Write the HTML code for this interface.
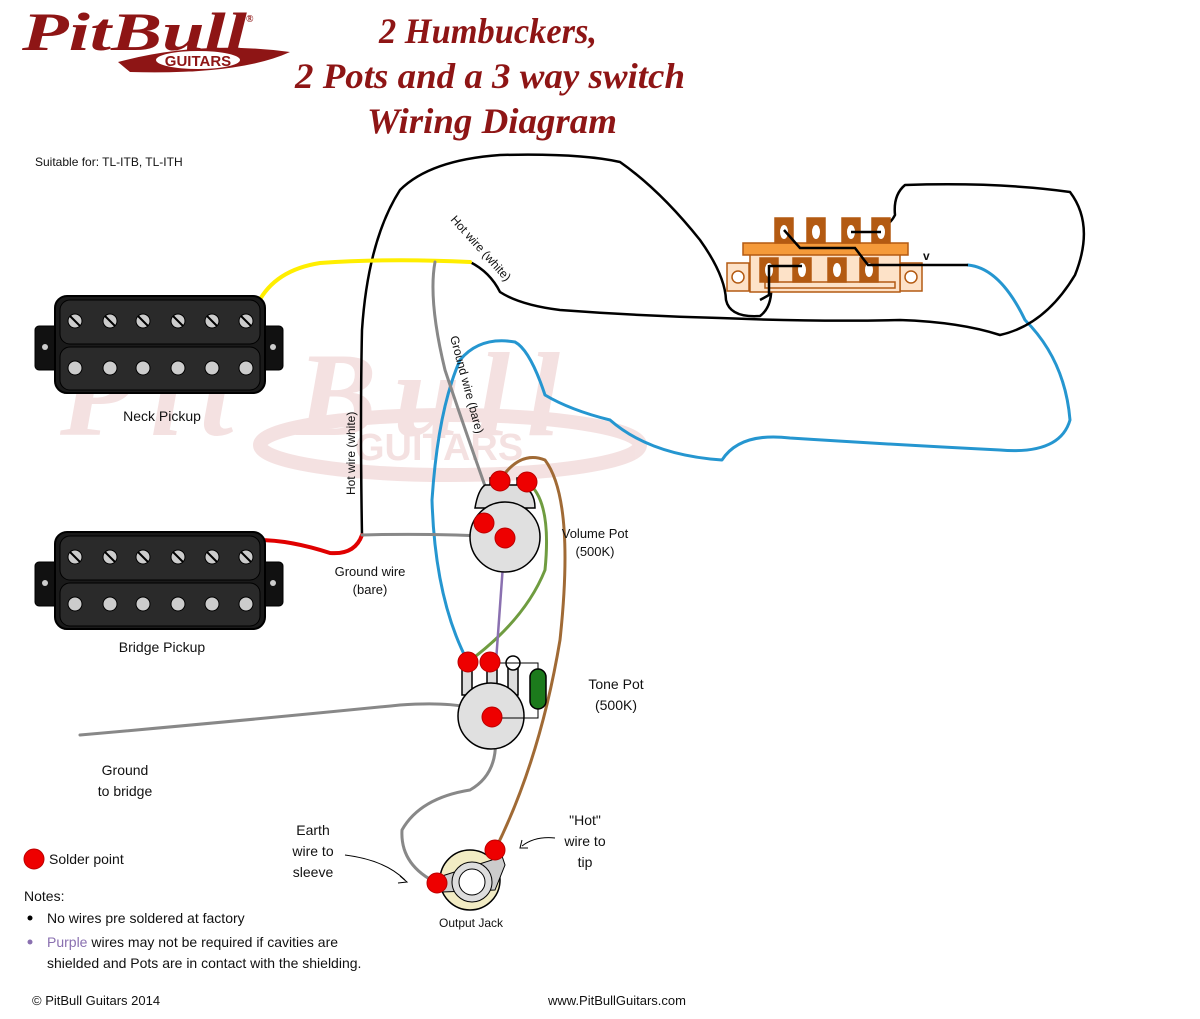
<!DOCTYPE html>
<html><head><meta charset="utf-8"><style>
body{margin:0;background:#fff}
svg{display:block}
.t{font-family:"Liberation Serif",serif;font-weight:bold;font-style:italic;fill:#8e1515}
.h{font-family:"Liberation Sans",sans-serif;fill:#111}
</style></head><body>
<svg width="1200" height="1019" viewBox="0 0 1200 1019" xmlns="http://www.w3.org/2000/svg">
<!-- watermark -->
<g opacity="0.15" fill="#b83c3c">
<text x="60" y="435" font-family="Liberation Serif" font-weight="bold" font-style="italic" font-size="120" textLength="500">Pit Bull</text>
<ellipse cx="450" cy="445" rx="190" ry="30" fill="none" stroke="#b83c3c" stroke-width="14"/>
<text x="355" y="460" font-family="Liberation Sans" font-weight="bold" font-size="38">GUITARS</text>
</g>
<!-- logo -->
<text x="22" y="50" class="t" font-size="54" textLength="225" lengthAdjust="spacingAndGlyphs">PitBull</text>
<text x="246" y="22" class="t" font-size="10">®</text>
<path d="M118 62 Q200 40 290 52 Q240 75 130 72 Z" fill="#8e1515"/>
<ellipse cx="198" cy="60" rx="42" ry="9" fill="#fff"/>
<text x="198" y="66" text-anchor="middle" font-family="Liberation Sans" font-weight="bold" font-size="15" fill="#8e1515">GUITARS</text>
<!-- title -->
<text x="488" y="43" text-anchor="middle" class="t" font-size="36" textLength="218" lengthAdjust="spacingAndGlyphs">2 Humbuckers,</text>
<text x="490" y="88" text-anchor="middle" class="t" font-size="36" textLength="390" lengthAdjust="spacingAndGlyphs">2 Pots and a 3 way switch</text>
<text x="492" y="133" text-anchor="middle" class="t" font-size="36" textLength="250" lengthAdjust="spacingAndGlyphs">Wiring Diagram</text>
<text x="35" y="166" class="h" font-size="12">Suitable for: TL-ITB, TL-ITH</text>

<!-- wires -->
<g fill="none" stroke-linecap="round" stroke-linejoin="round">
<path d="M968 265 Q1000 268 1025 320 Q1065 360 1070 420 Q1060 455 1000 450 Q900 445 790 438 Q740 432 722 460 Q650 455 610 420 Q570 410 545 395 Q530 350 515 342 Q480 336 460 360 Q438 410 432 500 Q435 600 468 662" stroke="#2596d0" stroke-width="3"/>
<path d="M362 535 Q360 420 362 330 Q368 240 400 190 Q430 160 500 155 Q580 153 620 162 Q660 190 700 240 Q725 275 726 300 Q730 318 760 316 Q775 305 770 275 L768 260 L785 257" stroke="#000" stroke-width="2.5"/>
<path d="M470 262 Q490 272 500 292 Q520 305 560 310 Q640 316 720 318 Q820 322 900 320 Q960 322 1000 335 Q1045 325 1075 275 Q1095 225 1070 192 Q1000 182 905 185 Q893 195 895 215 Q890 225 880 228 L880 238" stroke="#000" stroke-width="2.5"/>
<path d="M258 303 Q275 270 320 263 Q390 258 470 262" stroke="#ffee00" stroke-width="4"/>
<path d="M258 540 Q290 540 330 553 Q355 555 362 535" stroke="#e00000" stroke-width="4"/>
<path d="M435 262 Q428 300 445 370 Q465 430 490 500" stroke="#888" stroke-width="3"/>
<path d="M362 535 Q430 533 505 537" stroke="#888" stroke-width="3"/>
<path d="M80 735 Q250 720 400 705 Q470 700 492 717 Q505 770 470 790 Q420 798 402 830 Q400 865 437 883" stroke="#888" stroke-width="3"/>
<path d="M495 850 Q540 760 560 640 Q575 500 545 460 Q520 450 500 480" stroke="#a06a35" stroke-width="3"/>
<path d="M527 482 Q552 500 545 570 Q525 620 468 662" stroke="#6f9c40" stroke-width="3"/>
<path d="M505 537 Q498 630 492 717" stroke="#8a70b0" stroke-width="2.5"/>
</g>

<!-- switch -->
<g stroke="#b35a12" stroke-width="1.5">
<rect x="727" y="263" width="22" height="28" fill="#fde2c8"/>
<rect x="900" y="263" width="22" height="28" fill="#fde2c8"/>
<circle cx="738" cy="277" r="6" fill="#fff"/><circle cx="911" cy="277" r="6" fill="#fff"/>
<rect x="750" y="250" width="150" height="42" fill="#fde2c8"/>
<rect x="743" y="243" width="165" height="12" fill="#f59a3a"/>
<g fill="#b35a12">
<rect x="775" y="218" width="18" height="25"/><rect x="807" y="218" width="18" height="25"/><rect x="842" y="218" width="18" height="25"/><rect x="872" y="218" width="18" height="25"/>
<rect x="760" y="258" width="18" height="24"/><rect x="793" y="258" width="18" height="24"/><rect x="828" y="258" width="18" height="24"/><rect x="860" y="258" width="18" height="24"/>
</g>
<g fill="#fff" stroke="none">
<ellipse cx="784" cy="232" rx="4" ry="7"/><ellipse cx="816" cy="232" rx="4" ry="7"/><ellipse cx="851" cy="232" rx="4" ry="7"/><ellipse cx="881" cy="232" rx="4" ry="7"/>
<ellipse cx="769" cy="270" rx="4" ry="7"/><ellipse cx="802" cy="270" rx="4" ry="7"/><ellipse cx="837" cy="270" rx="4" ry="7"/><ellipse cx="869" cy="270" rx="4" ry="7"/>
</g>
<rect x="765" y="282" width="130" height="6" fill="none"/>
</g>
<g stroke="#000" stroke-width="2.5" fill="none">
<path d="M784 230 L800 248 L855 248 L868 265 L968 265"/>
<path d="M851 232 L881 232"/>
<path d="M769 265 L769 295 L760 300 M769 266 L802 266"/>
</g>
<text x="923" y="260" class="h" font-size="12" font-weight="bold">v</text>

<!-- pickups -->
<g id="pu">
<rect x="35" y="326" width="248" height="44" rx="4" fill="#111" stroke="#000"/>
<circle cx="45" cy="347" r="3" fill="#ccc"/><circle cx="273" cy="347" r="3" fill="#ccc"/>
<rect x="55" y="296" width="210" height="97" rx="12" fill="#1a1a1a" stroke="#000" stroke-width="2"/>
<rect x="60" y="300" width="200" height="44" rx="10" fill="#2a2a2a" stroke="#000"/>
<rect x="60" y="347" width="200" height="43" rx="10" fill="#2a2a2a" stroke="#000"/>
<g fill="#ccc" stroke="#000">
<circle cx="75" cy="321" r="7"/><circle cx="110" cy="321" r="7"/><circle cx="143" cy="321" r="7"/><circle cx="178" cy="321" r="7"/><circle cx="212" cy="321" r="7"/><circle cx="246" cy="321" r="7"/>
<circle cx="75" cy="368" r="7"/><circle cx="110" cy="368" r="7"/><circle cx="143" cy="368" r="7"/><circle cx="178" cy="368" r="7"/><circle cx="212" cy="368" r="7"/><circle cx="246" cy="368" r="7"/>
</g>
<g stroke="#000" stroke-width="2"><path d="M70 316 L80 326 M105 316 L115 326 M138 316 L148 326 M173 316 L183 326 M207 316 L217 326 M241 316 L251 326"/></g>
</g>
<use href="#pu" y="236"/>
<text x="162" y="421" text-anchor="middle" class="h" font-size="14">Neck Pickup</text>
<text x="162" y="652" text-anchor="middle" class="h" font-size="14">Bridge Pickup</text>

<!-- volume pot -->
<g stroke="#000" stroke-width="1.5">
<rect x="490" y="478" width="10" height="30" fill="#ddd"/><rect x="517" y="478" width="10" height="30" fill="#ddd"/>
<path d="M475 508 Q478 490 485 485 L520 485 Q535 490 535 508 Z" fill="#ddd"/>
<circle cx="505" cy="537" r="35" fill="#e0e0e0"/>
</g>
<g fill="#e00" stroke="#b00">
<circle cx="500" cy="481" r="10"/><circle cx="527" cy="482" r="10"/><circle cx="484" cy="523" r="10"/><circle cx="505" cy="538" r="10"/>
</g>
<!-- tone pot -->
<g stroke="#000" stroke-width="1.5">
<rect x="462" y="665" width="10" height="30" fill="#ddd"/><rect x="487" y="665" width="10" height="30" fill="#ddd"/><rect x="508" y="665" width="10" height="30" fill="#ddd"/>
<circle cx="513" cy="663" r="7" fill="#fff"/>
<circle cx="491" cy="716" r="33" fill="#e0e0e0"/>
<path d="M497 663 L538 663 L538 688 M538 700 L538 718 L491 718" fill="none" stroke-width="1"/>
<rect x="530" y="669" width="16" height="40" rx="8" fill="#1c7a1c"/>
</g>
<g fill="#e00" stroke="#b00">
<circle cx="468" cy="662" r="10"/><circle cx="490" cy="662" r="10"/><circle cx="492" cy="717" r="10"/>
</g>
<!-- output jack -->
<circle cx="470" cy="880" r="30" fill="#f2ecc4" stroke="#000" stroke-width="1.5"/>
<path d="M442 876 L492 860 L500 850 L505 865 L495 890 L442 892 Z" fill="#ccc" stroke="#000"/>
<circle cx="472" cy="882" r="20" fill="#ddd" stroke="#000"/>
<circle cx="472" cy="882" r="13" fill="#fff" stroke="#000"/>
<circle cx="437" cy="883" r="10" fill="#e00" stroke="#b00"/>
<circle cx="495" cy="850" r="10" fill="#e00" stroke="#b00"/>

<!-- labels -->
<g class="h" font-size="13">
<text x="595" y="538" text-anchor="middle">Volume Pot</text>
<text x="595" y="556" text-anchor="middle">(500K)</text>
<text x="616" y="689" text-anchor="middle" font-size="14">Tone Pot</text>
<text x="616" y="710" text-anchor="middle" font-size="14">(500K)</text>
<text x="370" y="576" text-anchor="middle">Ground wire</text>
<text x="370" y="594" text-anchor="middle">(bare)</text>
<text x="125" y="775" text-anchor="middle" font-size="14">Ground</text>
<text x="125" y="796" text-anchor="middle" font-size="14">to bridge</text>
<text x="313" y="835" text-anchor="middle" font-size="14">Earth</text>
<text x="313" y="856" text-anchor="middle" font-size="14">wire to</text>
<text x="313" y="877" text-anchor="middle" font-size="14">sleeve</text>
<text x="585" y="825" text-anchor="middle" font-size="14">"Hot"</text>
<text x="585" y="846" text-anchor="middle" font-size="14">wire to</text>
<text x="585" y="867" text-anchor="middle" font-size="14">tip</text>
<text x="471" y="927" text-anchor="middle" font-size="12">Output Jack</text>
<text x="355" y="495" transform="rotate(-90 355 495)" font-size="12">Hot wire (white)</text>
<text x="450" y="220" transform="rotate(48 450 220)" font-size="12">Hot wire (white)</text>
<text x="450" y="337" transform="rotate(75 450 337)" font-size="12">Ground wire (bare)</text>
</g>
<g fill="none" stroke="#000" stroke-width="1">
<path d="M345 855 Q385 860 405 880"/><path d="M400 876 L407 882 L398 883"/>
<path d="M555 838 Q535 836 522 846"/><path d="M522 840 L520 848 L528 848"/>
</g>
<circle cx="34" cy="859" r="10" fill="#e00" stroke="#b00"/>
<g class="h" font-size="14">
<text x="49" y="864">Solder point</text>
<text x="24" y="901">Notes:</text>
<circle cx="30" cy="918" r="2.5" fill="#000"/>
<text x="47" y="923">No wires pre soldered at factory</text>
<circle cx="30" cy="942" r="2.5" fill="#8a70b0"/>
<text x="47" y="947"><tspan fill="#8a70b0">Purple</tspan> wires may not be required if cavities are</text>
<text x="47" y="968">shielded and Pots are in contact with the shielding.</text>
<text x="32" y="1005" font-size="13">© PitBull Guitars 2014</text>
<text x="548" y="1005" font-size="13">www.PitBullGuitars.com</text>
</g>
</svg>
</body></html>
